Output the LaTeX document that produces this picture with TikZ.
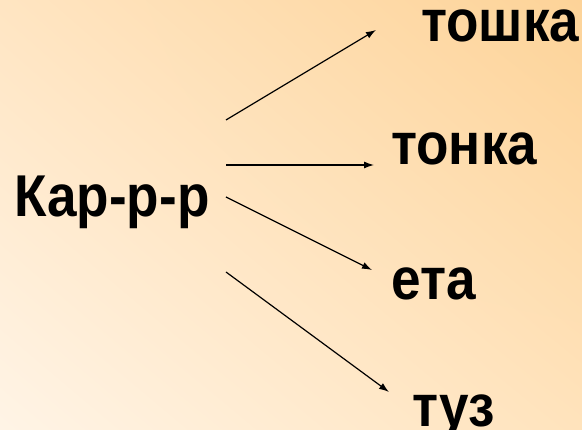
\documentclass[tikz,border=0pt]{standalone}
\usepackage{fontspec}
\setmainfont{Liberation Sans}
\usepackage{graphicx}
\usetikzlibrary{arrows.meta,shadings}
\definecolor{bgUL}{RGB}{255,229,194}
\definecolor{bgUR}{RGB}{253,211,152}
\definecolor{bgLL}{RGB}{255,244,230}
\definecolor{bgLR}{RGB}{255,227,188}
\tikzset{
  word/.style={anchor=base west, inner sep=0pt, font=\fontsize{59}{61}\selectfont\bfseries},
  link/.style={line width=1.2pt, -{Latex[length=10pt,width=7pt]}}
}
\newcommand{\narrow}[1]{\scalebox{0.9}[1]{#1}}
\begin{document}
\begin{tikzpicture}[x=1pt,y=1pt]
\useasboundingbox (0,0) rectangle (582,-430);
\shade[upper left=bgUL, upper right=bgUR, lower left=bgLL, lower right=bgLR]
  (0,0) rectangle (582,-430);
\node[word] (kar) at (14,-217) {\narrow{Кар-р-р}};
\node[word] (w1) at (421,-42) {\narrow{тошка}};
\node[word] (w2) at (391,-165) {\narrow{тонка}};
\node[word] (w3) at (391,-300) {\narrow{ета}};
\node[word] (w4) at (412,-427) {\narrow{туз}};
\coordinate (s1) at (226,-120);
\coordinate (e1) at (376,-30);
\coordinate (s2) at (226,-165);
\coordinate (e2) at (374,-165);
\coordinate (s3) at (226,-197);
\coordinate (e3) at (372,-270);
\coordinate (s4) at (226,-272);
\coordinate (e4) at (389,-392);
\draw[link] (s1) -- (e1);
\draw[link] (s2) -- (e2);
\draw[link] (s3) -- (e3);
\draw[link] (s4) -- (e4);
\end{tikzpicture}
\end{document}
